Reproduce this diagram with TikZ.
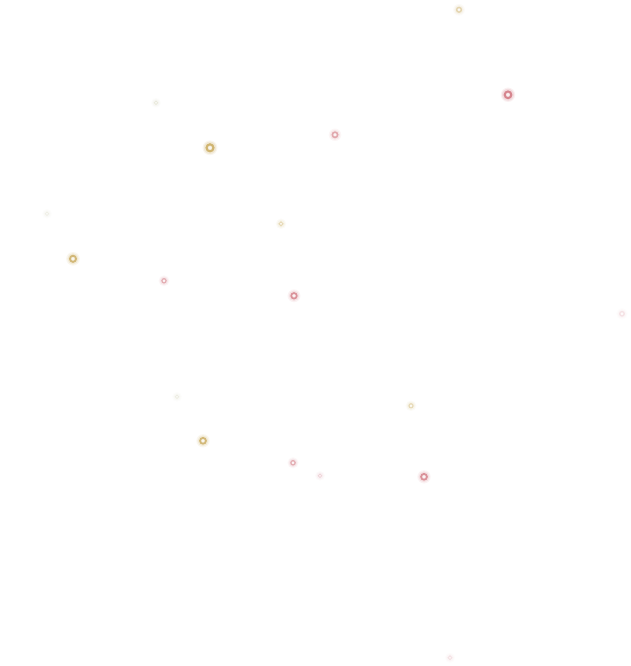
\documentclass[tikz,border=0pt]{standalone}
\definecolor{gold}{RGB}{200,168,88}
\definecolor{rose}{RGB}{205,105,115}
\definecolor{faint}{RGB}{215,215,190}
\tikzset{
  glow/.style={fill=#1, draw=none},
  ringline/.style={draw=#1},
}
\begin{document}
\begin{tikzpicture}[x=1pt,y=-1pt]
\useasboundingbox[fill=white] (0,0) rectangle (631,666);
% x, y, radius, colour, opacity
\foreach \x/\y/\r/\c/\o in {
  459/9.8/3.4/gold/0.4,
  508/94.8/4.8/rose/0.75,
  156/102.8/2.4/faint/0.45,
  210/147.8/5.0/gold/0.8,
  335/134.8/3.8/rose/0.5,
  47/213.8/2.4/faint/0.3,
  281/223.8/2.8/gold/0.35,
  73/258.8/4.4/gold/0.75,
  164/280.8/3.0/rose/0.45,
  294/295.8/4.0/rose/0.65,
  622/313.8/3.2/rose/0.14,
  177/396.8/2.4/faint/0.35,
  411/405.8/2.9/gold/0.35,
  203/440.8/4.2/gold/0.75,
  293/462.8/3.1/rose/0.45,
  320/475.8/2.4/rose/0.22,
  424/476.8/4.2/rose/0.65,
  450/657.8/2.6/rose/0.14}
{
  \fill[glow=\c, opacity=0.12*\o] (\x,\y) circle[radius=\r+2.4];
  \fill[glow=\c, opacity=0.2*\o] (\x,\y) circle[radius=\r+1.2];
  \draw[ringline=\c, opacity=\o, line width=0.42*\r] (\x,\y) circle[radius=0.7*\r];
  \fill[white, opacity=0.6] (\x,\y) circle[radius=0.35*\r];
}
\end{tikzpicture}
\end{document}
